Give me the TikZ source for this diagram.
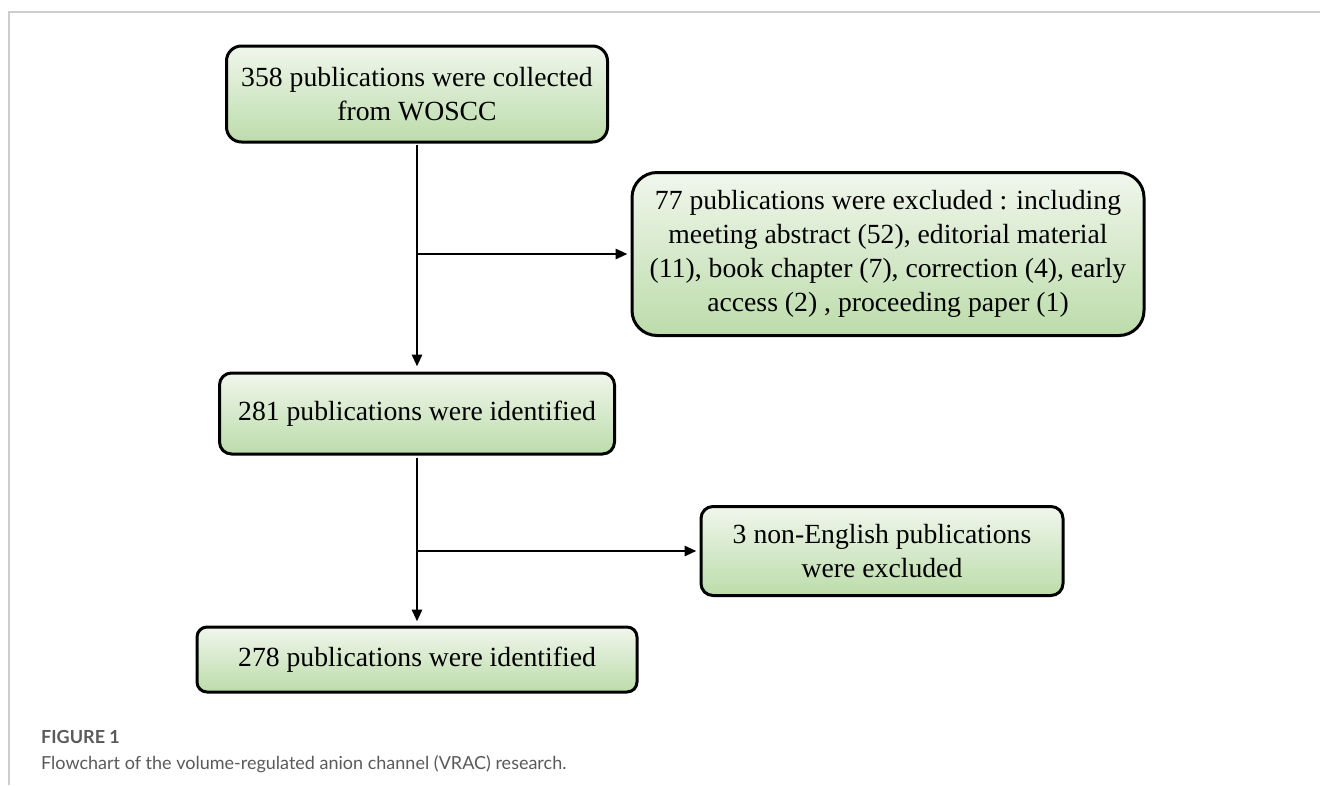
\documentclass[tikz,border=0pt]{standalone}
\usepackage{fontspec}
\setmainfont{Liberation Serif}
\newfontfamily\capfont{Lato}
\usetikzlibrary{arrows.meta}
\definecolor{boxtop}{HTML}{F0F6EC}
\definecolor{boxbot}{HTML}{BCDCAA}
\definecolor{framegray}{HTML}{CDCDCD}
\definecolor{capgray}{HTML}{5A5A5A}
\tikzset{
  flowbox/.style={draw=black, line width=3pt, top color=boxtop, bottom color=boxbot,
    rectangle, align=center, inner sep=0pt,
    font=\fontsize{27.7pt}{34pt}\selectfont},
  flowarrow/.style={draw=black, line width=2.8pt, -{Triangle[length=12pt,width=10pt]}},
}
\begin{document}
\begin{tikzpicture}[x=1pt,y=-1pt]
\useasboundingbox (0,0) rectangle (1320,785);
\fill[white] (0,0) rectangle (1320,785);
% frame
\draw[framegray, line width=1.5pt] (9,785) -- (9,12) -- (1320,12);
% boxes
\node[flowbox, minimum width=381pt, minimum height=96pt, rounded corners=15pt] (b1) at (417,94)
  {358 publications were collected\\from WOSCC};
\node[flowbox, minimum width=512pt, minimum height=163pt, rounded corners=25pt] (b2) at (888,254)
  {77 publications were excluded : including\\meeting abstract (52), editorial material\\(11), book chapter (7), correction (4), early\\access (2) , proceeding paper (1)};
\node[flowbox, minimum width=395pt, minimum height=81pt, rounded corners=12pt] (b3) at (417,413.5)
  {281 publications were identified};
\node[flowbox, minimum width=362pt, minimum height=89pt, rounded corners=12pt] (b4) at (882,551)
  {3 non-English publications\\were excluded};
\node[flowbox, minimum width=440pt, minimum height=65pt, rounded corners=10pt] (b5) at (417,659.5)
  {278 publications were identified};
% connectors
\draw[flowarrow, shorten <=1pt, shorten >=5pt] (b1.south) -- (b3.north);
\draw[flowarrow, shorten >=3pt] (b1.south |- b2.west) -- (b2.west);
\draw[flowarrow, shorten <=2pt, shorten >=4pt] (b3.south) -- (b5.north);
\draw[flowarrow, shorten >=3pt] (b3.south |- b4.west) -- (b4.west);
% caption
\node[anchor=west, inner sep=0pt, text=capgray, font=\capfont\bfseries\fontsize{18pt}{20pt}\selectfont] (fig) at (41,737) {FIGURE 1};
\node[anchor=west, inner sep=0pt, text=capgray, font=\capfont\fontsize{18pt}{20pt}\selectfont] (cap) at (41,764) {Flowchart of the volume-regulated anion channel (VRAC) research.};
\end{tikzpicture}
\end{document}
